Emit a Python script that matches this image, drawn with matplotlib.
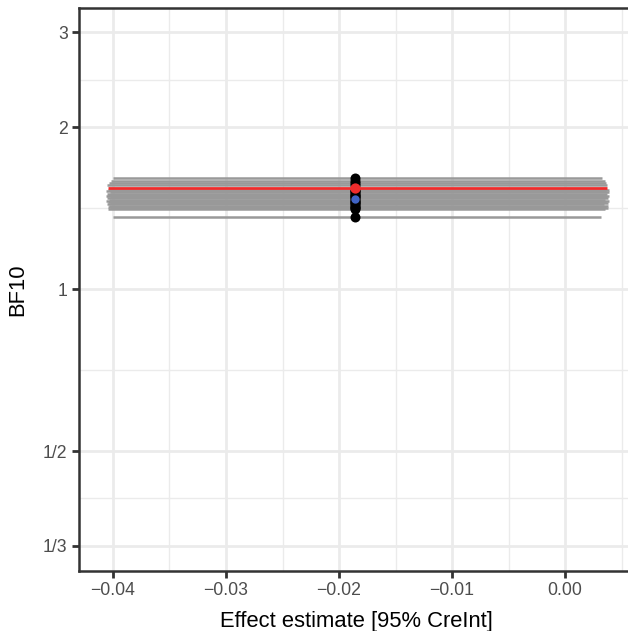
import numpy as np
import matplotlib
matplotlib.use("Agg")
import matplotlib.pyplot as plt
from matplotlib.ticker import FixedLocator, FixedFormatter

# --- dados ---
bf10 = [1.612, 1.587, 1.572, 1.558, 1.527, 1.520, 1.512, 1.504, 1.497, 1.489,
        1.481, 1.474, 1.466, 1.459, 1.451, 1.444, 1.437, 1.430, 1.422, 1.415,
        1.408, 1.361]
estimativa = [-0.0186] * len(bf10)
ic_inf = [-0.04003, -0.04020, -0.04035, -0.04050, -0.04045, -0.04060, -0.04030,
          -0.04055, -0.04040, -0.04060, -0.04025, -0.04050, -0.04035, -0.04058,
          -0.04042, -0.04030, -0.04052, -0.04038, -0.04045, -0.04030, -0.04040,
          -0.04003]
ic_sup = [0.00330, 0.00350, 0.00362, 0.00370, 0.00385, 0.00365, 0.00390, 0.00372,
          0.00358, 0.00388, 0.00368, 0.00380, 0.00355, 0.00386, 0.00362, 0.00378,
          0.00345, 0.00383, 0.00360, 0.00375, 0.00350, 0.00316]

media_bf = 1.541
media_est = -0.0186
media_ic = (-0.0404, 0.00368)
mediana_bf = 1.470
mediana_est = -0.0186

y_breaks = [1/3, 1/2, 1, 2, 3]
y_labels = ["1/3", "1/2", "1", "2", "3"]
x_breaks = [-0.04, -0.03, -0.02, -0.01, 0.00]
x_labels = ["\u22120.04", "\u22120.03", "\u22120.02", "\u22120.01", "0.00"]

# --- cores (theme_bw) ---
COR_GRADE = "#EBEBEB"
COR_BORDA = "#333333"
COR_TICK_TXT = "#4D4D4D"
COR_BARRA = "#999999"
COR_MEDIA = "#EE2C2C"
COR_MEDIANA = "#3F63C4"

plt.rcParams["font.family"] = ["Liberation Sans", "DejaVu Sans"]

fig = plt.figure(figsize=(6.28, 6.31), dpi=100)
W, H = 628, 631
esq, dir_, topo, base = 79, 633, 8, 571
ax = fig.add_axes([esq / W, 1 - base / H, (dir_ - esq) / W, (base - topo) / H])

# grade (maior e menor, estilo ggplot)
y_menor = [np.sqrt(a * b) for a, b in zip(y_breaks[:-1], y_breaks[1:])]
x_menor = [-0.035, -0.025, -0.015, -0.005, 0.005]
for yv in y_menor:
    ax.axhline(yv, color=COR_GRADE, lw=1.0, zorder=0)
for xv in x_menor:
    ax.axvline(xv, color=COR_GRADE, lw=1.0, zorder=0)
for yv in y_breaks:
    ax.axhline(yv, color=COR_GRADE, lw=2.0, zorder=0)
for xv in x_breaks:
    ax.axvline(xv, color=COR_GRADE, lw=2.0, zorder=0)

# barras horizontais dos intervalos
ax.hlines(bf10, ic_inf, ic_sup, color=COR_BARRA, lw=1.8, zorder=2)
ax.plot(estimativa, bf10, "o", color="black", ms=7.2, mew=0, zorder=3)

# media e mediana
ax.hlines([media_bf], [media_ic[0]], [media_ic[1]], color=COR_MEDIA, lw=2.0, zorder=4)
ax.plot([media_est], [media_bf], "o", color=COR_MEDIA, ms=7.4, mew=0, zorder=5)
ax.plot([mediana_est], [mediana_bf], "o", color=COR_MEDIANA, ms=6.0, mew=0, zorder=5)

ax.set_yscale("log")
ax.set_xlim(-0.0430, 0.0060)
ax.set_ylim(0.2993, 3.33)

ax.yaxis.set_major_locator(FixedLocator(y_breaks))
ax.yaxis.set_major_formatter(FixedFormatter(y_labels))
ax.yaxis.set_minor_locator(FixedLocator([]))
ax.xaxis.set_major_locator(FixedLocator(x_breaks))
ax.xaxis.set_major_formatter(FixedFormatter(x_labels))

ax.tick_params(axis="both", which="major", length=5.0, width=2.0, color=COR_BORDA,
               labelsize=12.7, labelcolor=COR_TICK_TXT, pad=3.2)
for spine in ax.spines.values():
    spine.set_color(COR_BORDA)
    spine.set_linewidth(1.8)

ax.set_xlabel("Effect estimate [95% CreInt]", fontsize=15.8, color="black", labelpad=8.5)
ax.set_ylabel("BF10", fontsize=15.8, color="black", labelpad=11)

fig.savefig("out.png", dpi=100)
